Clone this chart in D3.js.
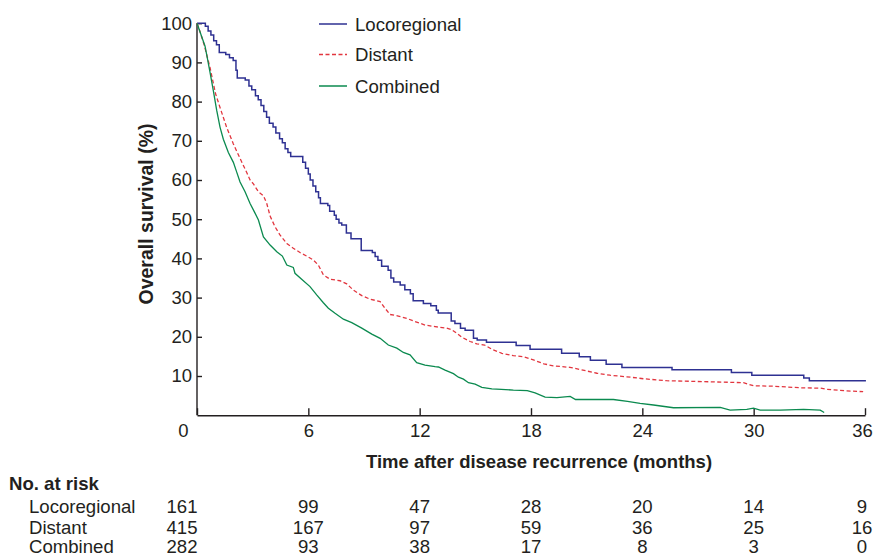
<!DOCTYPE html>
<meta charset="utf-8">
<style>
body{
  margin: 0;
  background: #fff;
}
svg{
  display: block;
  font-family: "Liberation Sans", Arial, Helvetica, sans-serif;
  fill: #231f20;
}
.axis path, .axis line{
  stroke: #231f20;
  stroke-width: 1.4px;
}
.axis text{
  font-size: 18.5px;
  fill: #231f20;
}
.title{
  font-size: 18.5px;
  font-weight: bold;
}
.legend text, .risk text{
  font-size: 18.6px;
}
</style>
<body>
<svg id="chart"></svg>
<script src="https://cdn.jsdelivr.net/npm/d3@7"></script>
<script>

// months, survival (%)
var locoregional = [
  [0,100],[0.45,99.2],[0.6,98],[0.75,97],[0.9,95.5],[1.05,94.5],[1.2,92.5],[1.55,92],
  [1.75,91.2],[1.95,90.5],[2.1,88],[2.17,86],[2.6,85.5],[2.8,84],[2.95,83],[3.15,81.5],
  [3.3,80.5],[3.45,79],[3.6,77.5],[3.75,76],[3.9,74.5],[4.1,73.5],[4.25,72],[4.45,70.5],
  [4.6,69.5],[4.75,68],[4.9,67],[5.05,66],[5.7,64.5],[5.85,63],[6.0,61.5],[6.1,60],
  [6.25,58.5],[6.4,57],[6.55,55.5],[6.65,54],[7.05,53.5],[7.15,52],[7.4,51],[7.5,50],
  [7.65,49],[7.8,48.5],[8.05,46.5],[8.3,45],[8.85,42],[9.45,41.5],[9.6,40.5],[9.75,39.5],
  [9.95,38],[10.3,37],[10.45,35],[10.6,34],[10.95,33.2],[11.2,32],[11.5,31],[11.65,29.2],
  [12.2,28.5],[12.6,27.9],[12.9,26.8],[13.0,26.1],[13.7,24],[13.9,23.4],[14.2,22.2],
  [14.45,21.7],[14.9,19.6],[15.1,19.2],[15.6,18.6],[17.2,17.8],[17.95,16.8],[19.65,15.8],
  [20.6,14.9],[21.2,14.0],[22.05,13.0],[22.9,12.2],[25.6,11.6],[28.8,10.9],[29.9,10.2],
  [32.7,9.5],[33.0,8.8],[36.05,8.8]
]

var distant = [
  [0,100],[0.15,98],[0.38,94.6],[0.7,88.7],[1.0,82],[1.24,78.5],[1.6,73.4],[1.96,69.2],
  [2.32,65.5],[2.68,61.9],[2.86,60],[3.04,59],[3.31,57],[3.58,56],[3.76,54],[3.94,50.8],
  [4.2,48.1],[4.47,46],[4.84,43.8],[5.19,42.6],[5.55,41.5],[5.91,40.6],[6.27,39.6],
  [6.54,38.3],[6.81,35.8],[7.17,34.7],[7.71,34.3],[8.07,33.5],[8.43,31.9],[8.88,30.5],
  [9.33,29.6],[9.87,29],[10.13,27.3],[10.4,25.7],[10.85,25.3],[11.3,24.7],[11.75,23.9],
  [12.29,23],[12.83,22.6],[13.46,22.2],[13.73,21.8],[14.0,20.9],[14.27,19.9],[14.72,18.8],
  [15.08,18.2],[15.5,17.9],[15.9,16.8],[16.43,15.8],[17.05,15.2],[17.6,14.9],[18.13,14.1],
  [18.7,13.1],[19.2,12.6],[20.1,12.2],[20.8,11.5],[21.55,10.7],[22.26,10.2],[23.16,9.8],
  [24.06,9.3],[25.3,8.8],[27.8,8.5],[29.45,8.3],[29.99,7.5],[31.07,7.4],[32.5,7.0],
  [33.6,6.9],[33.95,6.6],[35.0,6.2],[35.9,6.0]
]

var combined = [
  [0,100],[0.25,96.6],[0.43,94.2],[0.56,91],[0.7,87.5],[0.88,82.8],[1.06,77.8],[1.24,73.5],
  [1.42,70.4],[1.69,67],[1.96,64.5],[2.14,62],[2.32,59.5],[2.59,57],[2.86,54],[3.1,51.8],
  [3.31,49.8],[3.58,45.5],[3.94,43.4],[4.3,41.7],[4.6,40.6],[4.84,38.3],[5.19,37.7],
  [5.28,36.2],[5.64,34.7],[6.09,32.8],[6.45,30.7],[6.81,28.7],[7.08,27.3],[7.44,26],
  [7.89,24.5],[8.34,23.6],[8.88,22.2],[9.42,20.7],[9.87,19.6],[10.31,17.9],[10.77,17.1],
  [11.12,16],[11.48,15.4],[11.84,13.4],[12.29,12.8],[12.83,12.4],[13.01,12.3],[13.37,11.5],
  [13.82,10.6],[14.09,9.7],[14.36,9.2],[14.63,8.3],[14.99,7.9],[15.35,7.1],[15.89,6.7],
  [16.4,6.6],[17.05,6.4],[17.8,6.25],[18.22,5.7],[18.76,4.6],[19.4,4.5],[20.11,4.8],
  [20.4,4.0],[21.4,4.0],[22.44,4.0],[23.2,3.5],[23.88,3.0],[24.6,2.6],[25.68,1.9],
  [28.2,2.0],[28.73,1.3],[29.63,1.5],[29.99,1.8],[30.35,1.3],[31.43,1.3],[32.69,1.5],
  [33.59,1.3],[33.8,0.7]
]

var groups = ['Locoregional', 'Distant', 'Combined']
var xTicks = [0, 6, 12, 18, 24, 30, 36]
var yTicks = [10, 20, 30, 40, 50, 60, 70, 80, 90, 100]
var atRisk = [
  [161, 99, 47, 28, 20, 14, 9],
  [415, 167, 97, 59, 36, 25, 16],
  [282, 93, 38, 17, 8, 3, 0]
]

var width = 875,
    height = 560

var colors = ['#2e3192', '#e2363f', '#0b8a4f']
var dashes = [null, '4,2.5', null]
var curves = [d3.curveStepAfter, d3.curveLinear, d3.curveLinear]

var svg = d3.select('#chart')
    .attr('width', width)
    .attr('height', height)

var x = d3.scaleLinear().domain([0, 36]).range([197, 865])
var y = d3.scaleLinear().domain([0, 100]).range([415.2, 23.2])

// axes, ticks point inward
var yAxis = svg.append('g')
    .attr('class', 'axis')
    .attr('transform', 'translate(' + x(0) + ',0)')
    .call(d3.axisLeft(y).tickValues(yTicks).tickSize(-5).tickSizeOuter(0).tickPadding(5))
yAxis.select('.domain').attr('d', 'M0,' + y(0) + 'V' + y(100))

var xAxis = svg.append('g')
    .attr('class', 'axis')
    .attr('transform', 'translate(0,' + y(0) + ')')
    .call(d3.axisBottom(x).tickValues(xTicks).tickSize(-7).tickSizeOuter(0).tickPadding(9))
xAxis.selectAll('.tick text')
    .attr('dx', function(d){ return d == 0 ? -14 : d == 36 ? -3 : 0 })

svg.selectAll('.axis text').attr('fill', '#231f20')

// curves
var line = d3.line()
    .x(function(d){ return x(d[0]) })
    .y(function(d){ return y(d[1]) })

;[locoregional, distant, combined].forEach(function(data, i){
  svg.append('path')
      .datum(data)
      .attr('d', line.curve(curves[i]))
      .attr('fill', 'none')
      .attr('stroke', colors[i])
      .attr('stroke-width', i == 0 ? 1.5 : 1.3)
      .attr('stroke-dasharray', dashes[i])
})

// legend
var legend = svg.append('g').attr('class', 'legend')
var legendY = [24, 54.5, 86]
groups.forEach(function(g, i){
  legend.append('line')
      .attr('x1', 319).attr('x2', 347)
      .attr('y1', legendY[i]).attr('y2', legendY[i])
      .attr('stroke', colors[i])
      .attr('stroke-width', 1.5)
      .attr('stroke-dasharray', dashes[i])
  legend.append('text')
      .attr('x', 355)
      .attr('y', legendY[i])
      .attr('dy', '0.35em')
      .text(g)
})

// axis titles
svg.append('text')
    .attr('class', 'title')
    .attr('transform', 'translate(153,214) rotate(-90)')
    .attr('text-anchor', 'middle')
    .style('font-size', '19.5px')
    .text('Overall survival (%)')

svg.append('text')
    .attr('class', 'title')
    .attr('x', 539)
    .attr('y', 468)
    .attr('text-anchor', 'middle')
    .text('Time after disease recurrence (months)')

// number at risk table
var risk = svg.append('g').attr('class', 'risk')
risk.append('text')
    .attr('x', 9)
    .attr('y', 490)
    .style('font-weight', 'bold')
    .text('No. at risk')

var rowY = [512.5, 533.5, 553]
groups.forEach(function(g, i){
  risk.append('text')
      .attr('x', 29)
      .attr('y', rowY[i])
      .text(g)
  risk.selectAll(null)
      .data(atRisk[i])
    .enter().append('text')
      .attr('x', function(d, j){ var t = xTicks[j]; return x(t) + (t == 0 ? -15 : t == 36 ? -3 : 0) })
      .attr('y', rowY[i])
      .attr('text-anchor', 'middle')
      .text(function(d){ return d })
})

</script>
</body>
